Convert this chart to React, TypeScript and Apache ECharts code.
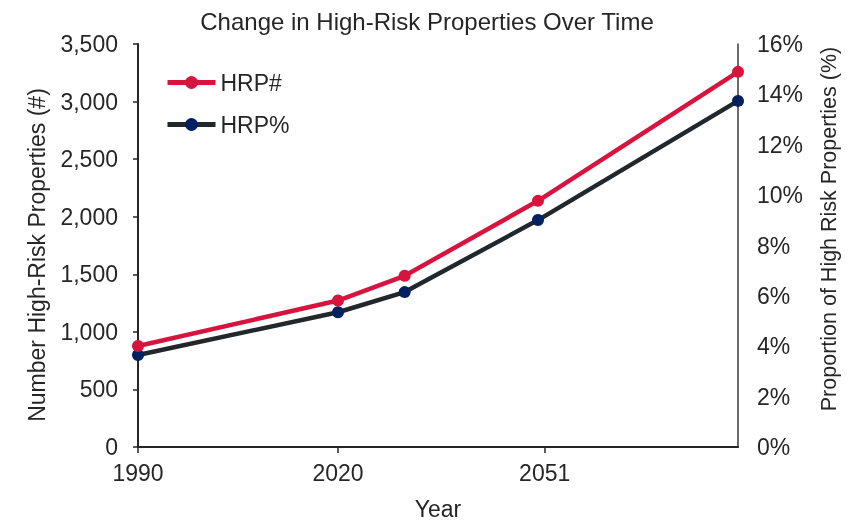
import React, { useEffect, useRef } from "react";
import * as echarts from "echarts";

const years = [1990, 2020, 2030, 2050, 2080];
const hrpCount = [877, 1272, 1487, 2138, 3258];
const hrpPercent = [3.65, 5.35, 6.15, 9.01, 13.74];
const xTickYears = [1990, 2020, 2051];

const FONT = "'Liberation Sans', Arial, sans-serif";
const TXT = "#262626";

export default function App() {
  const ref = useRef<HTMLDivElement>(null);
  useEffect(() => {
    if (!ref.current) return;
    const chart = echarts.init(ref.current, null, { renderer: "svg" });
    chart.setOption({
      animation: false,
      textStyle: { fontFamily: FONT, color: TXT },
      title: {
        text: "Change in High-Risk Properties Over Time",
        left: "center",
        top: 9,
        padding: 0,
        textStyle: { fontFamily: FONT, fontSize: 24, fontWeight: "normal", color: TXT },
      },
      legend: {
        orient: "vertical",
        left: 165,
        top: 71,
        padding: 0,
        itemWidth: 48,
        itemHeight: 16,
        itemGap: 19,
        lineStyle: { width: 5 },
        textStyle: { fontFamily: FONT, fontSize: 23, color: TXT },
        data: ["HRP#", "HRP%"],
      },
      graphic: [
        {
          type: "text",
          x: 37,
          y: 255,
          rotation: Math.PI / 2,
          style: {
            text: "Number High-Risk Properties (#)",
            font: "23px 'Liberation Sans', Arial, sans-serif",
            fill: TXT,
            align: "center",
            verticalAlign: "middle",
          },
        },
        {
          type: "text",
          x: 829,
          y: 229,
          rotation: Math.PI / 2,
          style: {
            text: "Proportion of High Risk Properties (%)",
            font: "21.5px 'Liberation Sans', Arial, sans-serif",
            fill: TXT,
            align: "center",
            verticalAlign: "middle",
          },
        },
      ],
      grid: {
        left: 138,
        right: 116,
        top: 44,
        bottom: 75,
        containLabel: false,
        outerBoundsMode: "none",
      },
      xAxis: {
        type: "value",
        min: 1990,
        max: 2080,
        name: "Year",
        nameLocation: "middle",
        nameGap: 50,
        nameTextStyle: { fontFamily: FONT, fontSize: 23, color: TXT },
        axisLine: { show: true, lineStyle: { color: TXT, width: 2 } },
        axisTick: { show: true, customValues: xTickYears, length: 6, lineStyle: { color: TXT, width: 1.5 } },
        axisLabel: {
          customValues: xTickYears,
          margin: 14,
          fontFamily: FONT,
          fontSize: 23,
          color: TXT,
          formatter: (v: number) => String(v),
        },
        splitLine: { show: false },
      },
      yAxis: [
        {
          type: "value",
          min: 0,
          max: 3500,
          interval: 500,
          position: "left",
          axisLine: { show: true, lineStyle: { color: TXT, width: 2 } },
          axisTick: { show: true, length: 5, lineStyle: { color: TXT, width: 1.5 } },
          axisLabel: {
            margin: 20,
            fontFamily: FONT,
            fontSize: 23,
            color: TXT,
            formatter: (v: number) => v.toLocaleString("en-US"),
          },
          splitLine: { show: false },
        },
        {
          type: "value",
          min: 0,
          max: 16,
          interval: 2,
          position: "right",
          axisLine: { show: true, lineStyle: { color: "#3a3a3a", width: 1.5 } },
          axisTick: { show: false },
          axisLabel: {
            margin: 19,
            fontFamily: FONT,
            fontSize: 23,
            color: TXT,
            formatter: (v: number) => v + "%",
          },
          splitLine: { show: false },
        },
      ],
      series: [
        {
          name: "HRP#",
          type: "line",
          yAxisIndex: 0,
          data: years.map((y, i) => [y, hrpCount[i]]),
          symbol: "circle",
          symbolSize: 12,
          lineStyle: { color: "#D8143E", width: 4.5 },
          itemStyle: { color: "#D8143E" },
          z: 3,
        },
        {
          name: "HRP%",
          type: "line",
          yAxisIndex: 1,
          data: years.map((y, i) => [y, hrpPercent[i]]),
          symbol: "circle",
          symbolSize: 12,
          lineStyle: { color: "#22272B", width: 4.5 },
          itemStyle: { color: "#002060" },
          z: 2,
        },
      ],
    });
    return () => chart.dispose();
  }, []);
  return (
    <div
      ref={ref}
      style={{ position: "fixed", left: 0, top: 0, width: 854, height: 522, overflow: "hidden" }}
    />
  );
}
